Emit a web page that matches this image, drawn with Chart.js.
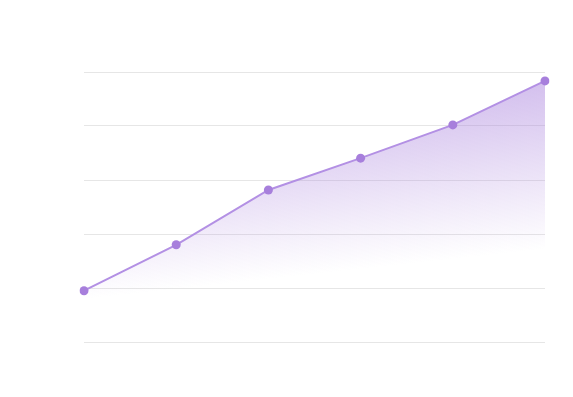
<!DOCTYPE html>
<html>
<head>
<meta charset="utf-8">
<script src="https://cdn.jsdelivr.net/npm/chart.js@4"></script>
<style>
  html, body { margin: 0; padding: 0; background: #fff; }
  #wrap { width: 573px; height: 397px; }
</style>
</head>
<body>
<div id="wrap"><canvas id="chart"></canvas></div>
<script>
// ====== Data ======
const labels = ['Jan', 'Feb', 'Mar', 'Apr', 'May', 'Jun'];
const values = [19, 36, 56.3, 68.1, 80.4, 96.7];
const yTicks = [0, 20, 40, 60, 80, 100];

// ====== Diagonal fade fill ======
function fadeFill(ctx) {
    const { chart } = ctx;
    const area = chart.chartArea;
    if (!area) return 'rgba(167,127,220,0.45)';
    const g = chart.ctx.createLinearGradient(area.right, area.top, area.right + 19, area.top + 175);
    g.addColorStop(0, 'rgba(167,127,220,0.52)');
    g.addColorStop(1, 'rgba(167,127,220,0)');
    return g;
}

new Chart(document.getElementById('chart'), {
    type: 'line',
    data: {
        labels,
        datasets: [{
            data: values,
            borderColor: '#b390e4',
            borderWidth: 2,
            backgroundColor: fadeFill,
            fill: 'origin',
            tension: 0,
            pointRadius: 4.5,
            pointBackgroundColor: '#a77fdc',
            pointBorderWidth: 0
        }]
    },
    options: {
        responsive: true,
        maintainAspectRatio: false,
        animation: false,
        layout: { autoPadding: false, padding: { left: 84, right: 28, top: 72, bottom: 47 } },
        plugins: { legend: { display: false }, tooltip: { enabled: false } },
        scales: {
            x: {
                ticks: { display: false },
                grid: { display: false },
                border: { display: false }
            },
            y: {
                min: yTicks[0], max: yTicks[yTicks.length - 1],
                afterBuildTicks: axis => { axis.ticks = yTicks.map(v => ({ value: v })); },
                ticks: { display: false },
                grid: { color: '#e6e6e6', drawTicks: false },
                border: { display: false }
            }
        }
    }
});
</script>
</body>
</html>
